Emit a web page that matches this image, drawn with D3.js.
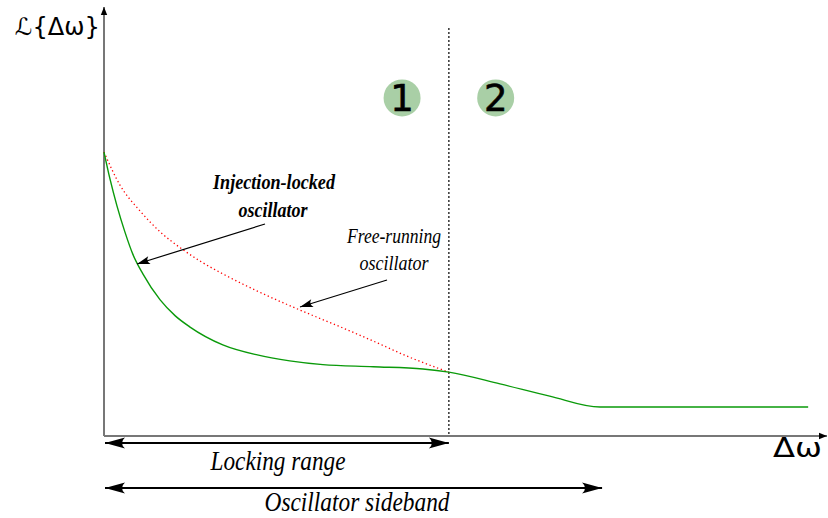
<!DOCTYPE html>
<html><head><meta charset="utf-8">
<script src="https://cdn.jsdelivr.net/npm/d3@7"></script>
<style>html,body{margin:0;padding:0;background:#fff;}svg{display:block;}</style>
</head><body>
<svg id="chart" width="828" height="518"></svg>
<script>
// ---- data (arbitrary units: Δω on x, L{Δω} on y) ----
const lockedX  = [0, 0.83, 1.8, 2.9, 4.0, 5.4, 7.8, 9.9, 11.9, 16.5, 21.3, 25.8, 30.4, 37.4, 44.3, 47.9, 55.0, 61.9, 68.9, 75.8, 97.8];
const lockedY  = [67.6, 61.2, 54.8, 48.6, 43.3, 38.6, 32.4, 28.6, 26.0, 21.7, 19.3, 17.9, 17.0, 16.5, 15.95, 15.2, 12.4, 9.5, 6.9, 6.9, 6.9];
const freeX    = [0, 2.2, 5.0, 7.8, 10.6, 13.3, 16.5, 21.3, 27.2, 32.8, 37.4, 42.1, 47.9];
const freeY    = [67.6, 59.8, 53.6, 48.6, 44.8, 41.7, 38.6, 34.5, 30.0, 26.0, 22.6, 19.0, 15.2];
const lockingEdge = 47.9;      // end of locking range
const sidebandEdge = 68.9;     // end of oscillator sideband
const regionLabels = ["1", "2"];
const regionX = [41.4, 54.4];
const regionY = 80.5;
const yAxisLabel = "ℒ{Δω}";
const xAxisLabel = "Δω";
const rangeLabels = ["Locking range", "Oscillator sideband"];

const svg = d3.select("#chart");
const x = d3.scaleLinear().domain([0, 100]).range([104, 824]);
const y = d3.scaleLinear().domain([0, 100]).range([436, 16]);

const defs = svg.append("defs");
function concaveMarker(id, len, half, color) {
  const m = defs.append("marker").attr("id", id)
    .attr("markerUnits", "userSpaceOnUse")
    .attr("viewBox", `${-len-1} ${-half-1} ${len+2} ${2*half+2}`)
    .attr("refX", 0).attr("refY", 0)
    .attr("markerWidth", len+2).attr("markerHeight", 2*half+2)
    .attr("orient", "auto-start-reverse");
  m.append("path")
    .attr("d", `M0,0 L${-len},${-half} Q${-len*0.7},0 ${-len},${half} Z`)
    .attr("fill", color);
}
concaveMarker("bigArrow", 20, 5.5, "#000");
concaveMarker("smallArrow", 13, 4, "#000");
defs.append("marker").attr("id", "axisArrow")
  .attr("markerUnits", "userSpaceOnUse")
  .attr("viewBox", "-9 -4 10 8").attr("refX", 0).attr("refY", 0)
  .attr("markerWidth", 10).attr("markerHeight", 8)
  .attr("orient", "auto")
  .append("path").attr("d", "M0,0 L-8,-3.2 L-8,3.2 Z").attr("fill", "#000");

// axes
svg.append("line").attr("x1", x(0)).attr("y1", y(0)).attr("x2", x(0)).attr("y2", 7)
  .attr("stroke", "#777").attr("stroke-width", 2).attr("marker-end", "url(#axisArrow)");
svg.append("line").attr("x1", x(0)).attr("y1", y(0)).attr("x2", 827).attr("y2", y(0))
  .attr("stroke", "#777").attr("stroke-width", 2).attr("marker-end", "url(#axisArrow)");

// vertical dashed divider
svg.append("line").attr("x1", x(lockingEdge)).attr("x2", x(lockingEdge))
  .attr("y1", 28).attr("y2", y(0))
  .attr("stroke", "#000").attr("stroke-width", 1.2).attr("stroke-dasharray", "2,2");

// region circles
regionLabels.forEach((t, i) => {
  svg.append("circle").attr("cx", x(regionX[i])).attr("cy", y(regionY)).attr("r", 18.5)
    .attr("fill", "#a9cfa6");
  svg.append("text").attr("x", x(regionX[i])).attr("y", y(regionY) + 13.5)
    .attr("text-anchor", "middle").attr("font-family", "DejaVu Sans")
    .attr("font-size", 37).attr("fill", "#000")
    .attr("stroke", "#000").attr("stroke-width", 0.6).text(t);
});

// curves
const line = d3.line().x(d => x(d[0])).y(d => y(d[1])).curve(d3.curveMonotoneX);
svg.append("path").datum(d3.zip(freeX, freeY)).attr("d", line)
  .attr("fill", "none").attr("stroke", "#ff0000").attr("stroke-width", 1.3)
  .attr("stroke-dasharray", "1.3,2.7");
svg.append("path").datum(d3.zip(lockedX, lockedY)).attr("d", line)
  .attr("fill", "none").attr("stroke", "#0a9a0a").attr("stroke-width", 1.4);

// annotation arrows
svg.append("line").attr("x1", 265).attr("y1", 224).attr("x2", 137).attr("y2", 264)
  .attr("stroke", "#000").attr("stroke-width", 1.2).attr("marker-end", "url(#smallArrow)");
svg.append("line").attr("x1", 387).attr("y1", 280).attr("x2", 300).attr("y2", 307)
  .attr("stroke", "#000").attr("stroke-width", 1.2).attr("marker-end", "url(#smallArrow)");

// annotation text
function label(t, cx, base, size, len, bold) {
  svg.append("text").attr("x", cx).attr("y", base).attr("text-anchor", "middle")
    .attr("font-family", "Liberation Serif, serif").attr("font-style", "italic")
    .attr("font-weight", bold ? "bold" : "normal").attr("font-size", size)
    .attr("textLength", len).attr("lengthAdjust", "spacingAndGlyphs")
    .attr("fill", "#000").text(t);
}
label("Injection-locked", 274, 189, 20.5, 122, true);
label("oscillator", 273, 217, 20.5, 69, true);
label("Free-running", 394, 243, 20.5, 94, false);
label("oscillator", 394, 270, 20.5, 69, false);

// range arrows
svg.append("line").attr("x1", x(0)+1).attr("x2", x(lockingEdge)).attr("y1", 443).attr("y2", 443)
  .attr("stroke", "#000").attr("stroke-width", 2)
  .attr("marker-start", "url(#bigArrow)").attr("marker-end", "url(#bigArrow)");
svg.append("line").attr("x1", x(0)+1).attr("x2", x(sidebandEdge)+2).attr("y1", 488).attr("y2", 488)
  .attr("stroke", "#000").attr("stroke-width", 2)
  .attr("marker-start", "url(#bigArrow)").attr("marker-end", "url(#bigArrow)");
label(rangeLabels[0], 278, 470, 27, 135, false);
label(rangeLabels[1], 357, 511, 27, 185, false);

// axis labels
svg.append("text").attr("x", 15).attr("y", 35).attr("font-family", "DejaVu Sans")
  .attr("font-size", 24).attr("textLength", 85).attr("lengthAdjust", "spacingAndGlyphs")
  .attr("fill", "#000").text(yAxisLabel);
svg.append("text").attr("x", 773).attr("y", 457).attr("font-family", "DejaVu Sans")
  .attr("font-size", 27).attr("textLength", 49).attr("lengthAdjust", "spacingAndGlyphs")
  .attr("fill", "#000").text(xAxisLabel);
</script>
</body></html>
